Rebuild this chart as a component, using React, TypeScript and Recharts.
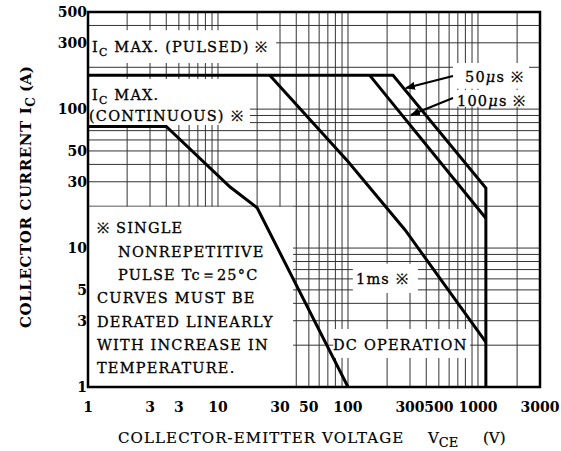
import React from "react";
import { LineChart, Line, XAxis, YAxis, ReferenceLine, ReferenceArea } from "recharts";

// safe operating area, collector current (A) vs collector-emitter voltage (V)
const dcV = [1, 4, 12.4, 20, 100];
const dcI = [75, 75, 27.5, 19.5, 1];
const ms1V = [25, 100, 275, 1150];
const ms1I = [175, 42, 13.5, 2.1];
const us100V = [147, 1150];
const us100I = [175, 16.4];
const us50V = [1, 222, 1150, 1150];
const us50I = [175, 175, 27, 1];

const xTicks = [1, 3, 5, 10, 30, 50, 100, 300, 500, 1000, 3000];
const xTickLabels = ["1", "3", "3", "10", "30", "50", "100", "300", "500", "1000", "3000"];
const yTicks = [1, 3, 5, 10, 30, 50, 100, 300, 500];

const xGrid = [2, 3, 4, 5, 6, 7, 8, 9, 10, 20, 30, 40, 50, 60, 70, 80, 90, 100, 200, 300, 400, 500, 600, 700, 800, 900, 1000, 2000];
const yGrid = [2, 3, 4, 5, 6, 7, 8, 9, 10, 20, 30, 40, 50, 60, 70, 80, 90, 100, 200, 300, 400];

// white boxes behind the annotations: [x1, x2, y1, y2] in volts / amps
const labelBoxes = [
  [1, 28, 215, 370],
  [1, 17.6, 77, 165],
  [642, 2470, 140, 215],
  [642, 2470, 104, 137],
  [109, 345, 4.75, 7.7],
  [77, 870, 1.62, 2.62],
  [1, 37.8, 1, 19.8],
];

const pts = (vs: number[], is: number[]) => vs.map((v, k) => ({ v, i: is[k] }));

const FONT = "'DejaVu Serif', serif";
const W = 561;
const H = 451;

const Sub = ({ children, size = 11 }: { children: React.ReactNode; size?: number }) => (
  <tspan fontSize={size} dy={4}>{children}</tspan>
);

export default function App() {
  const tickStyle = { fill: "#000", fontSize: 14, fontWeight: 700, fontFamily: FONT };
  const note = { fontSize: 14.5, fontFamily: FONT, fill: "#000", letterSpacing: 1.2, stroke: "#000", strokeWidth: 0.3 };
  const grid: any = { stroke: "#333", strokeWidth: 1, zIndex: 50 };
  return (
    <div style={{ position: "fixed", left: 0, top: 0, width: W, height: H, background: "#fff" }}>
      <LineChart width={W} height={H} margin={{ top: 12, right: 21, bottom: 34, left: 8 }}>
        <XAxis
          dataKey="v"
          type="number"
          scale="log"
          domain={[1, 3000]}
          ticks={xTicks}
          interval={0}
          tickFormatter={(v) => xTickLabels[xTicks.indexOf(v)] ?? String(v)}
          tick={tickStyle}
          tickLine={false}
          axisLine={false}
          tickSize={0}
          tickMargin={15}
          height={30}
          allowDataOverflow
        />
        <YAxis
          dataKey="i"
          type="number"
          scale="log"
          domain={[1, 500]}
          ticks={yTicks}
          interval={0}
          tick={tickStyle}
          tickLine={false}
          axisLine={false}
          tickSize={0}
          tickMargin={1}
          width={80}
          allowDataOverflow
        />
        {xGrid.map((g) => (
          <ReferenceLine key={"x" + g} x={g} {...grid} />
        ))}
        {yGrid.map((g) => (
          <ReferenceLine key={"y" + g} y={g} {...grid} />
        ))}
        {labelBoxes.map(([x1, x2, y1, y2], k) => (
          <ReferenceArea key={"m" + k} x1={x1} x2={x2} y1={y1} y2={y2} fill="#fff" fillOpacity={1} stroke="none" {...({ zIndex: 150 } as any)} />
        ))}
        <Line data={pts(dcV, dcI)} dataKey="i" type="linear" stroke="#000" strokeWidth={3} dot={false} isAnimationActive={false} />
        <Line data={pts(ms1V, ms1I)} dataKey="i" type="linear" stroke="#000" strokeWidth={3} dot={false} isAnimationActive={false} />
        <Line data={pts(us100V, us100I)} dataKey="i" type="linear" stroke="#000" strokeWidth={3} dot={false} isAnimationActive={false} />
        <Line data={pts(us50V, us50I)} dataKey="i" type="linear" stroke="#000" strokeWidth={3} dot={false} isAnimationActive={false} />
        <ReferenceArea x1={1} x2={3000} y1={1} y2={500} fill="none" stroke="#000" strokeWidth={2.5} {...({ zIndex: 450 } as any)} />
      </LineChart>
      <svg width={W} height={H} style={{ position: "absolute", left: 0, top: 0, pointerEvents: "none" }}>
        <defs>
          <marker id="ah" markerWidth="10" markerHeight="8" refX="9" refY="4" orient="auto" markerUnits="userSpaceOnUse">
            <path d="M0,0 L10,4 L0,8 z" fill="#000" />
          </marker>
        </defs>
        <line x1={453} y1={76} x2={406} y2={88} stroke="#000" strokeWidth={2} markerEnd="url(#ah)" />
        <line x1={453} y1={98} x2={411} y2={115} stroke="#000" strokeWidth={2} markerEnd="url(#ah)" />
        <g>
          <text x={92} y={52} {...note}>I<Sub>C</Sub><tspan dy={-4}> MAX. (PULSED) ※</tspan></text>
          <text x={92} y={100} {...note}>I<Sub>C</Sub><tspan dy={-4}> MAX.</tspan></text>
          <text x={89} y={121} {...note}>(CONTINUOUS) ※</text>
          <text x={465} y={82} {...note}>50<tspan fontStyle="italic">μ</tspan>s ※</text>
          <text x={457} y={106} {...note}>100<tspan fontStyle="italic">μ</tspan>s ※</text>
          <text x={356} y={284} {...note}>1ms ※</text>
          <text x={333} y={350} {...note}>DC OPERATION</text>
          <text x={97} y={233} {...note}>※ SINGLE</text>
          <text x={118} y={257} {...note}>NONREPETITIVE</text>
          <text x={118} y={280} {...note}>PULSE Tc＝25°C</text>
          <text x={97} y={303} {...note}>CURVES MUST BE</text>
          <text x={97} y={327} {...note}>DERATED LINEARLY</text>
          <text x={97} y={350} {...note}>WITH INCREASE IN</text>
          <text x={97} y={373} {...note}>TEMPERATURE.</text>
        </g>
        <g transform="translate(31,328) rotate(-90)" fontFamily={FONT} fontWeight={700} fontSize={15} fill="#000">
          <text x={0} y={0} letterSpacing={0.6}>
            COLLECTOR CURRENT I<Sub size={12}>C</Sub>
          </text>
          <text x={236} y={0}>(A)</text>
        </g>
        <g fontFamily={FONT} fontSize={15} fill="#000" stroke="#000" strokeWidth={0.2}>
          <text x={118} y={443} letterSpacing={1.1}>COLLECTOR-EMITTER VOLTAGE</text>
          <text x={428} y={443}>V<Sub size={13}>CE</Sub></text>
          <text x={483} y={443}>(V)</text>
        </g>
      </svg>
    </div>
  );
}
